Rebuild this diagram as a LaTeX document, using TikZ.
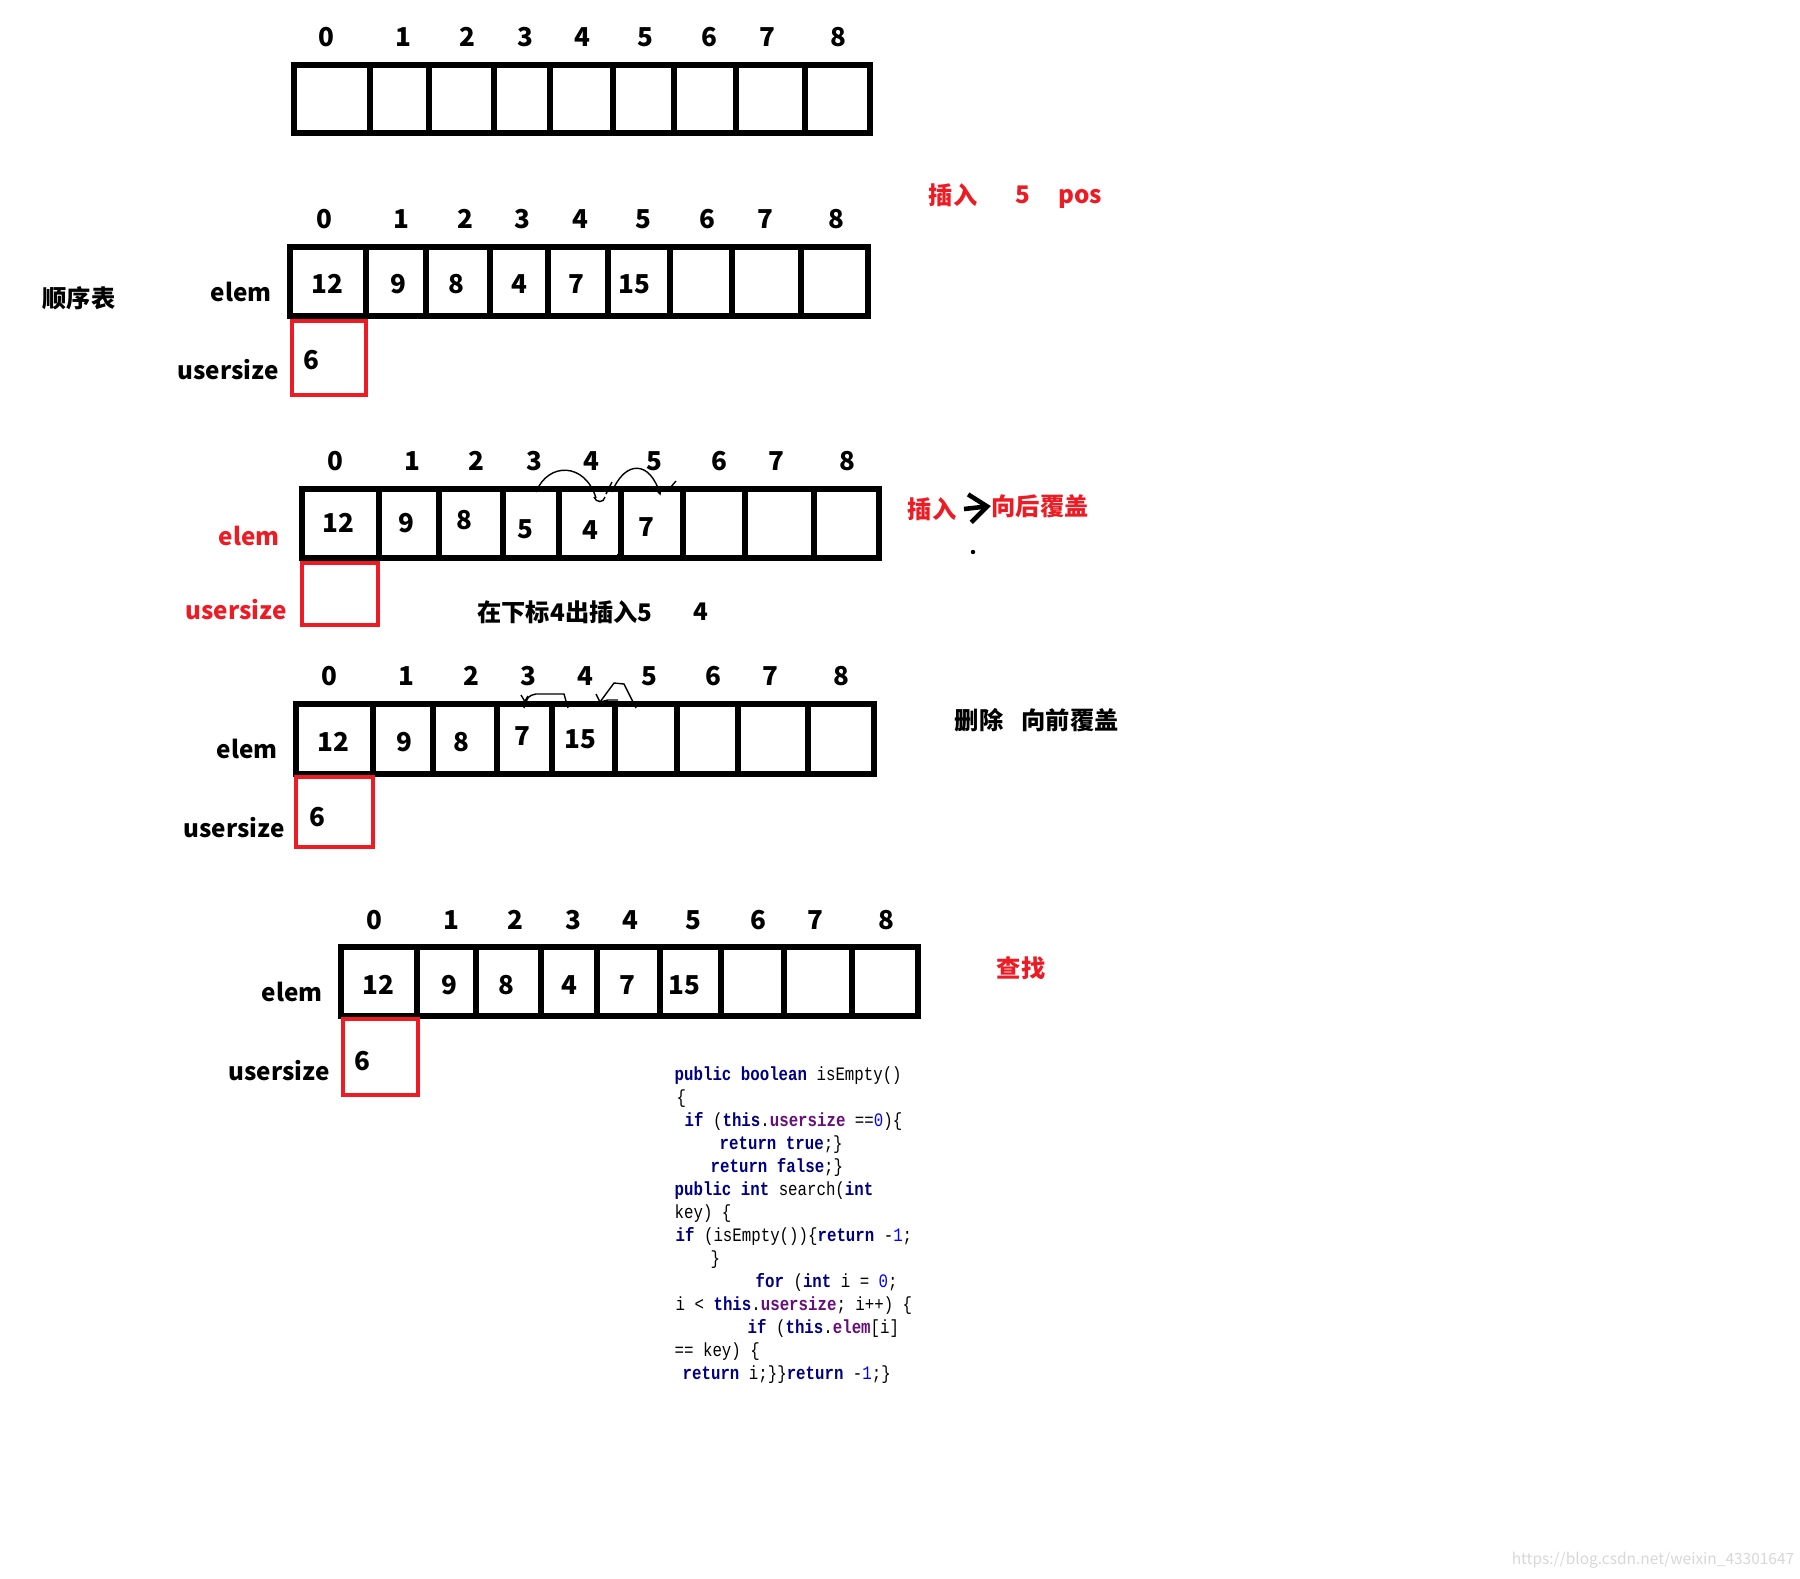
\documentclass[tikz,border=0pt]{standalone}
\usepackage{fontspec}
\setmainfont{Noto Sans CJK SC}
\newfontfamily\codefont[FakeStretch=0.83]{Liberation Mono}
\usetikzlibrary{arrows.meta}

\definecolor{mark}{RGB}{237,28,36}
\definecolor{kwblue}{RGB}{0,0,128}
\definecolor{fldpurple}{RGB}{102,14,122}
\definecolor{numblue}{RGB}{0,0,255}
\definecolor{wmgray}{RGB}{215,215,215}

\newcommand{\kw}[1]{\textcolor{kwblue}{\bfseries #1}}
\newcommand{\fld}[1]{\textcolor{fldpurple}{\bfseries #1}}
\newcommand{\num}[1]{\textcolor{numblue}{#1}}

\begin{document}
\begin{tikzpicture}[x=0.01cm, y=-0.01cm,
		arr/.style={line width=1.7pt},
		sizebox/.style={draw=mark, line width=1.35pt},
		idx/.style={font=\fontsize{7.4}{9}\selectfont\bfseries, inner sep=0pt},
		val/.style={font=\fontsize{7.4}{9}\selectfont\bfseries, inner sep=0pt},
		lbl/.style={font=\fontsize{6.9}{9}\selectfont\bfseries, inner sep=0pt},
		redlbl/.style={lbl, text=mark},
		codeline/.style={anchor=base west, inner sep=0pt, font=\codefont\fontsize{5.4}{6.5}\selectfont},
		scribble/.style={line width=0.4pt}]
		\useasboundingbox (0,0) rectangle (1800,1578);
		% empty array
		\draw[arr] (294,65) rectangle (870,133);
		\foreach \x in {370,429,494,550,613,674,736,805}
		  \draw[arr] (\x,65) -- (\x,133);
		\foreach \x [count=\i from 0] in {326,403,467,525,582,645,709,767,838}
		  \node[idx] (a-\i) at (\x,37) {\i};
		% filled array
		\draw[arr] (290,247) rectangle (868,316);
		\foreach \x in {366,426,490,548,608,670,732,801}
		  \draw[arr] (\x,247) -- (\x,316);
		\foreach \x [count=\i from 0] in {324,401,465,522,580,643,707,765,836}
		  \node[idx] (b-\i) at (\x,219) {\i};
		\foreach \x/\v [count=\i from 0] in {327/12,398/9,456/8,519/4,576/7,634/15}
		  \node[val] (bv-\i) at (\x,284) {\v};
		\draw[sizebox] (292,321) rectangle (366,395);
		\node[val] (bsz) at (311,360) {6};
		\node[lbl] (bname) at (79,298) {顺序表};
		\node[lbl] (belem) at (241,292) {elem};
		\node[lbl] (bsize) at (228,370) {usersize};
		\node[redlbl] (ins) at (953,195) {插入};
		\node[redlbl] (insv) at (1023,195) {5};
		\node[redlbl] (inspos) at (1080,199) {pos};
		% insert: shift backwards
		\draw[arr] (302,489) rectangle (879,558);
		\foreach \x in {379,439,503,559,621,683,745,814}
		  \draw[arr] (\x,489) -- (\x,558);
		\foreach \x [count=\i from 0] in {335,412,476,534,591,654,719,776,847}
		  \node[idx] (c-\i) at (\x,461) {\i};
		\foreach \x/\y/\v [count=\i from 0] in {338/523/12,406/523/9,464/520/8,525/529/5,590/530/4,646/527/7}
		  \node[val] (cv-\i) at (\x,\y) {\v};
		\draw[sizebox] (302,563) rectangle (378,625);
		\node[redlbl] (celem) at (249,536) {elem};
		\node[redlbl] (csize) at (236,610) {usersize};
		\draw[scribble] (536,492) .. controls (548,462) and (585,462) .. (596,498);
		\draw[scribble] (594,497) .. controls (596,503) and (604,503) .. (605,497);
		\draw[scribble] (612,492) .. controls (625,460) and (650,460) .. (660,494);
		\draw[scribble] (606,494) -- (612,482);
		\draw[scribble] (654,488) -- (660,494) -- (661,486);
		\draw[scribble] (670,488) -- (676,481);
		\draw[scribble] (617,555) -- (622,555);
		\node[lbl] (cnote) at (565,612) {在下标4出插入5};
		\node[lbl] (cnote4) at (701,612) {4};
		\node[redlbl] (cins) at (932,509) {插入};
		\node[redlbl] (cback) at (1040,506) {向后覆盖};
		\draw[line width=1.3pt, -{Straight Barb[length=5pt, width=8pt, line width=1.3pt]}] ([xshift=2pt]cins.east) -- (cback.west);
		\fill (973,552) circle (2.2);
		% delete: shift forwards
		\draw[arr] (296,704) rectangle (874,774);
		\foreach \x in {373,433,497,552,615,677,738,808}
		  \draw[arr] (\x,704) -- (\x,774);
		\foreach \x [count=\i from 0] in {329,406,471,528,585,649,713,770,841}
		  \node[idx] (d-\i) at (\x,676) {\i};
		\foreach \x/\y/\v [count=\i from 0] in {333/742/12,404/742/9,461/742/8,522/736/7,580/739/15}
		  \node[val] (dv-\i) at (\x,\y) {\v};
		\draw[sizebox] (296,777) rectangle (373,847);
		\node[val] (dsz) at (317,817) {6};
		\node[lbl] (delem) at (247,749) {elem};
		\node[lbl] (dsize) at (234,828) {usersize};
		\draw[scribble] (568,708) -- (564,694) -- (536,694) .. controls (528,696) .. (524,708);
		\draw[scribble] (521,695) -- (527,705);
		\draw[scribble] (528,696) -- (522,706);
		\draw[scribble] (636,708) -- (624,684) -- (614,683) -- (600,702);
		\draw[scribble] (600,702) -- (608,700) -- (618,700);
		\draw[scribble] (596,694) -- (600,702);
		\node[lbl] (ddel) at (979,720) {删除};
		\node[lbl] (dfwd) at (1070,720) {向前覆盖};
		% search
		\draw[arr] (341,947) rectangle (918,1016);
		\foreach \x in {417,476,541,597,660,721,784,852}
		  \draw[arr] (\x,947) -- (\x,1016);
		\foreach \x [count=\i from 0] in {374,451,515,573,630,693,758,815,886}
		  \node[idx] (e-\i) at (\x,920) {\i};
		\foreach \x/\v [count=\i from 0] in {378/12,449/9,506/8,569/4,627/7,684/15}
		  \node[val] (ev-\i) at (\x,985) {\v};
		\draw[sizebox] (343,1019) rectangle (418,1095);
		\node[val] (esz) at (362,1061) {6};
		\node[lbl] (eelem) at (292,992) {elem};
		\node[lbl] (esize) at (279,1071) {usersize};
		\node[redlbl] (efind) at (1021,968) {查找};
		% code
		\node[codeline] (c1) at (674,1080) {\kw{public} \kw{boolean} isEmpty()};
		\node[codeline] (c2) at (676,1103) {\{};
		\node[codeline] (c3) at (684,1126) {\kw{if} (\kw{this}.\fld{usersize} ==\num{0})\{};
		\node[codeline] (c4) at (719,1149) {\kw{return} \kw{true};\}};
		\node[codeline] (c5) at (710,1172) {\kw{return} \kw{false};\}};
		\node[codeline] (c6) at (674,1195) {\kw{public} \kw{int} search(\kw{int}};
		\node[codeline] (c7) at (674,1218) {key) \{};
		\node[codeline] (c8) at (675,1241) {\kw{if} (isEmpty())\{\kw{return} -\num{1};};
		\node[codeline] (c9) at (710,1264) {\}};
		\node[codeline] (c10) at (755,1287) {\kw{for} (\kw{int} i = \num{0};};
		\node[codeline] (c11) at (675,1310) {i < \kw{this}.\fld{usersize}; i++) \{};
		\node[codeline] (c12) at (747,1333) {\kw{if} (\kw{this}.\fld{elem}[i]};
		\node[codeline] (c13) at (674,1356) {== key) \{};
		\node[codeline] (c14) at (682,1379) {\kw{return} i;\}\}\kw{return} -\num{1};\}};
		\node[text=wmgray, font=\fontsize{4.4}{5}\selectfont, inner sep=0pt] (wm) at (1653,1560) {https://blog.csdn.net/weixin\_43301647};
	\end{tikzpicture}
\end{document}
